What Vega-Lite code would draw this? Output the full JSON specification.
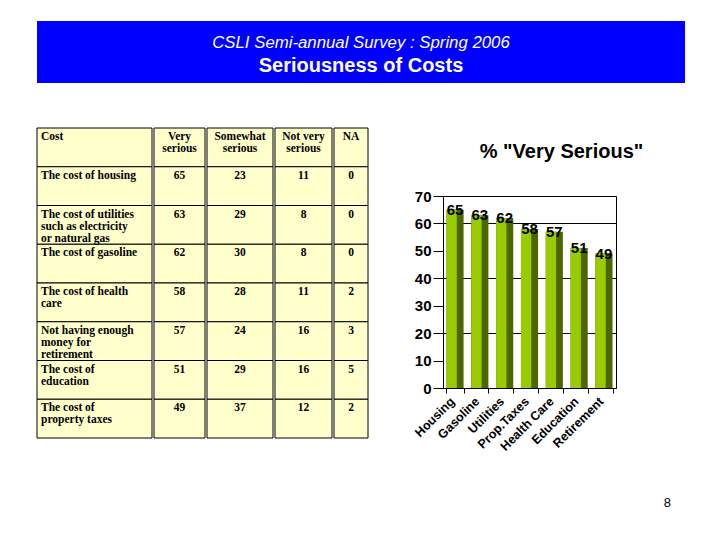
{
  "$schema": "https://vega.github.io/schema/vega-lite/v6.json",
  "padding": {"left": 36, "top": 21, "right": 0, "bottom": 0},
  "background": "white",
  "config": {"view": {"stroke": null}},
  "title": {"text": "8", "orient": "bottom", "anchor": "end", "dx": -14, "offset": 44, "font": "Liberation Sans", "fontSize": 13, "fontWeight": "normal", "color": "black"},
  "datasets": {
    "header": [
      {"line": 1, "text": "CSLI Semi-annual Survey : Spring 2006"},
      {"line": 2, "text": "Seriousness of Costs"}
    ],
    "charttitle": [
      {"text": "% \"Very Serious\""}
    ],
    "cells": [
      {"row": 0, "col": "cost", "text": "Cost"},
      {"row": 0, "col": "very", "text": "Very\nserious"},
      {"row": 0, "col": "somewhat", "text": "Somewhat\nserious"},
      {"row": 0, "col": "notvery", "text": "Not very\nserious"},
      {"row": 0, "col": "na", "text": "NA"},
      {"row": 1, "col": "cost", "text": "The cost of housing"},
      {"row": 1, "col": "very", "text": "65"},
      {"row": 1, "col": "somewhat", "text": "23"},
      {"row": 1, "col": "notvery", "text": "11"},
      {"row": 1, "col": "na", "text": "0"},
      {"row": 2, "col": "cost", "text": "The cost of utilities\nsuch as electricity\nor natural gas"},
      {"row": 2, "col": "very", "text": "63"},
      {"row": 2, "col": "somewhat", "text": "29"},
      {"row": 2, "col": "notvery", "text": "8"},
      {"row": 2, "col": "na", "text": "0"},
      {"row": 3, "col": "cost", "text": "The cost of gasoline"},
      {"row": 3, "col": "very", "text": "62"},
      {"row": 3, "col": "somewhat", "text": "30"},
      {"row": 3, "col": "notvery", "text": "8"},
      {"row": 3, "col": "na", "text": "0"},
      {"row": 4, "col": "cost", "text": "The cost of health\ncare"},
      {"row": 4, "col": "very", "text": "58"},
      {"row": 4, "col": "somewhat", "text": "28"},
      {"row": 4, "col": "notvery", "text": "11"},
      {"row": 4, "col": "na", "text": "2"},
      {"row": 5, "col": "cost", "text": "Not having enough\nmoney for\nretirement"},
      {"row": 5, "col": "very", "text": "57"},
      {"row": 5, "col": "somewhat", "text": "24"},
      {"row": 5, "col": "notvery", "text": "16"},
      {"row": 5, "col": "na", "text": "3"},
      {"row": 6, "col": "cost", "text": "The cost of\neducation"},
      {"row": 6, "col": "very", "text": "51"},
      {"row": 6, "col": "somewhat", "text": "29"},
      {"row": 6, "col": "notvery", "text": "16"},
      {"row": 6, "col": "na", "text": "5"},
      {"row": 7, "col": "cost", "text": "The cost of\nproperty taxes"},
      {"row": 7, "col": "very", "text": "49"},
      {"row": 7, "col": "somewhat", "text": "37"},
      {"row": 7, "col": "notvery", "text": "12"},
      {"row": 7, "col": "na", "text": "2"}
    ],
    "chart": [
      {"category": "Housing", "pct": 65},
      {"category": "Gasoline", "pct": 63},
      {"category": "Utilities", "pct": 62},
      {"category": "Prop.Taxes", "pct": 58},
      {"category": "Health Care", "pct": 57},
      {"category": "Education", "pct": 51},
      {"category": "Retirement", "pct": 49}
    ]
  },
  "spacing": 44,
  "vconcat": [
    {
      "width": 648,
      "height": 62,
      "view": {"fill": "#0000FF", "stroke": null},
      "data": {"name": "header"},
      "encoding": {"y": {"field": "line", "type": "ordinal", "axis": null, "scale": {"type": "point", "padding": 0.85}}},
      "layer": [
        {"transform": [{"filter": "datum.line === 1"}], "mark": {"type": "text", "color": "white", "font": "Liberation Sans", "fontSize": 16.8, "fontStyle": "italic", "baseline": "middle", "dy": 2.5}, "encoding": {"text": {"field": "text"}}},
        {"transform": [{"filter": "datum.line === 2"}], "mark": {"type": "text", "color": "white", "font": "Liberation Sans", "fontSize": 20, "fontWeight": "bold", "baseline": "middle", "dy": 2.5}, "encoding": {"text": {"field": "text"}}}
      ]
    },
    {
      "spacing": 42,
      "hconcat": [
        {
          "spacing": 0,
          "hconcat": [
            {
              "width": 115, "height": 310,
              "data": {"name": "cells"},
              "transform": [{"filter": "datum.col === 'cost'"}],
              "encoding": {
                "x": {"field": "col", "type": "nominal", "axis": null, "scale": {"paddingInner": 0, "paddingOuter": 0}},
                "y": {"field": "row", "type": "ordinal", "axis": null, "scale": {"paddingInner": 0, "paddingOuter": 0}}
              },
              "layer": [
                {"mark": {"type": "rect", "fill": "#FFFFCC", "stroke": "black", "strokeWidth": 1}},
                {"mark": {"type": "text", "align": "left", "baseline": "top", "dx": 4, "dy": 3, "font": "Liberation Serif", "fontSize": 11.5, "fontWeight": "bold", "lineBreak": "\n", "lineHeight": 12, "color": "black"},
                 "encoding": {"x": {"field": "col", "type": "nominal", "axis": null, "bandPosition": 0}, "y": {"field": "row", "type": "ordinal", "axis": null, "bandPosition": 0}, "text": {"field": "text"}}}
              ]
            },
            {
              "width": 51, "height": 310,
              "data": {"name": "cells"},
              "transform": [{"filter": "datum.col === 'very'"}],
              "encoding": {
                "x": {"field": "col", "type": "nominal", "axis": null, "scale": {"paddingInner": 0, "paddingOuter": 0}},
                "y": {"field": "row", "type": "ordinal", "axis": null, "scale": {"paddingInner": 0, "paddingOuter": 0}}
              },
              "layer": [
                {"mark": {"type": "rect", "fill": "#FFFFCC", "stroke": "black", "strokeWidth": 1}},
                {"mark": {"type": "text", "align": "center", "baseline": "top", "dy": 3, "font": "Liberation Serif", "fontSize": 11.5, "fontWeight": "bold", "lineBreak": "\n", "lineHeight": 12, "color": "black"},
                 "encoding": {"y": {"field": "row", "type": "ordinal", "axis": null, "bandPosition": 0}, "text": {"field": "text"}}}
              ]
            },
            {
              "width": 66, "height": 310,
              "data": {"name": "cells"},
              "transform": [{"filter": "datum.col === 'somewhat'"}],
              "encoding": {
                "x": {"field": "col", "type": "nominal", "axis": null, "scale": {"paddingInner": 0, "paddingOuter": 0}},
                "y": {"field": "row", "type": "ordinal", "axis": null, "scale": {"paddingInner": 0, "paddingOuter": 0}}
              },
              "layer": [
                {"mark": {"type": "rect", "fill": "#FFFFCC", "stroke": "black", "strokeWidth": 1}},
                {"mark": {"type": "text", "align": "center", "baseline": "top", "dy": 3, "font": "Liberation Serif", "fontSize": 11.5, "fontWeight": "bold", "lineBreak": "\n", "lineHeight": 12, "color": "black"},
                 "encoding": {"y": {"field": "row", "type": "ordinal", "axis": null, "bandPosition": 0}, "text": {"field": "text"}}}
              ]
            },
            {
              "width": 57, "height": 310,
              "data": {"name": "cells"},
              "transform": [{"filter": "datum.col === 'notvery'"}],
              "encoding": {
                "x": {"field": "col", "type": "nominal", "axis": null, "scale": {"paddingInner": 0, "paddingOuter": 0}},
                "y": {"field": "row", "type": "ordinal", "axis": null, "scale": {"paddingInner": 0, "paddingOuter": 0}}
              },
              "layer": [
                {"mark": {"type": "rect", "fill": "#FFFFCC", "stroke": "black", "strokeWidth": 1}},
                {"mark": {"type": "text", "align": "center", "baseline": "top", "dy": 3, "font": "Liberation Serif", "fontSize": 11.5, "fontWeight": "bold", "lineBreak": "\n", "lineHeight": 12, "color": "black"},
                 "encoding": {"y": {"field": "row", "type": "ordinal", "axis": null, "bandPosition": 0}, "text": {"field": "text"}}}
              ]
            },
            {
              "width": 34, "height": 310,
              "data": {"name": "cells"},
              "transform": [{"filter": "datum.col === 'na'"}],
              "encoding": {
                "x": {"field": "col", "type": "nominal", "axis": null, "scale": {"paddingInner": 0, "paddingOuter": 0}},
                "y": {"field": "row", "type": "ordinal", "axis": null, "scale": {"paddingInner": 0, "paddingOuter": 0}}
              },
              "layer": [
                {"mark": {"type": "rect", "fill": "#FFFFCC", "stroke": "black", "strokeWidth": 1}},
                {"mark": {"type": "text", "align": "center", "baseline": "top", "dy": 3, "font": "Liberation Serif", "fontSize": 11.5, "fontWeight": "bold", "lineBreak": "\n", "lineHeight": 12, "color": "black"},
                 "encoding": {"y": {"field": "row", "type": "ordinal", "axis": null, "bandPosition": 0}, "text": {"field": "text"}}}
              ]
            }
          ]
        },
        {
          "spacing": 12,
          "vconcat": [
            {
              "width": 173,
              "height": 48,
              "data": {"name": "charttitle"},
              "mark": {"type": "text", "font": "Liberation Sans", "fontSize": 20, "fontWeight": "bold", "color": "black", "baseline": "middle", "dx": 32},
              "encoding": {"text": {"field": "text"}}
            },
            {
              "width": 173,
              "height": 192,
              "data": {"name": "chart"},
              "view": {"stroke": "black", "strokeWidth": 1},
              "encoding": {
                "x": {"field": "category", "type": "nominal", "sort": null, "title": null,
                      "scale": {"paddingInner": 0.31, "paddingOuter": 0.14},
                      "axis": {"labelAngle": -45, "labelAlign": "right", "labelBaseline": "middle", "labelFont": "Liberation Sans", "labelFontWeight": "bold", "labelFontSize": 12.5, "labelColor": "black", "labelOffset": -3, "tickBand": "extent", "tickSize": 5, "tickColor": "black", "domainColor": "black", "labelPadding": 6}},
                "y": {"field": "pct", "type": "quantitative", "title": null,
                      "scale": {"domain": [0, 70]},
                      "axis": {"values": [0, 10, 20, 30, 40, 50, 60, 70], "tickSize": 10, "tickColor": "black", "domainColor": "black", "labelFont": "Liberation Sans", "labelFontWeight": "bold", "labelFontSize": 15, "labelColor": "black", "labelPadding": 2, "grid": true, "gridColor": "black",
                               "gridOpacity": {"condition": {"test": "datum.value === 20 || datum.value === 40 || datum.value === 60", "value": 1}, "value": 0}}}
              },
              "layer": [
                {"mark": {"type": "bar", "color": "#4D6600"}},
                {"mark": {"type": "bar", "color": "#99CC00", "width": {"band": 0.6}, "xOffset": -3.4}},
                {"mark": {"type": "text", "baseline": "middle", "font": "Liberation Sans", "fontSize": 15, "fontWeight": "bold", "color": "black"}, "encoding": {"text": {"field": "pct", "type": "quantitative"}}}
              ]
            }
          ]
        }
      ]
    }
  ]
}
